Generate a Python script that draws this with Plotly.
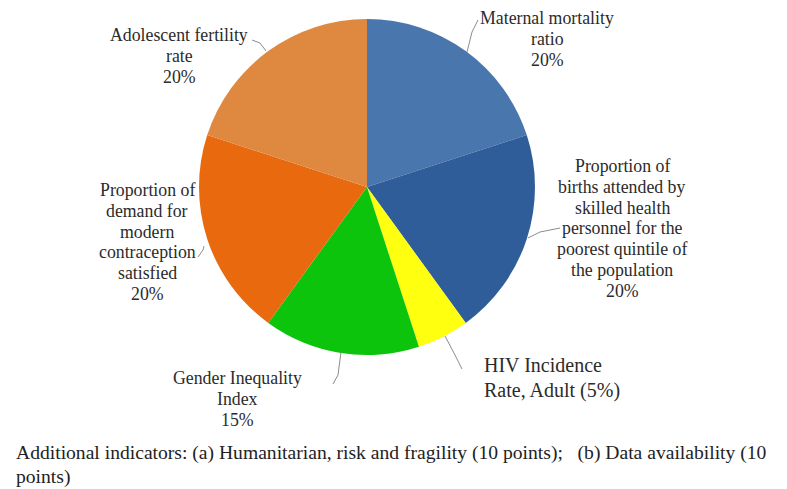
import plotly.graph_objects as go

W, H = 787, 489
OFF = 8  # page body margin of the viewer

labels = [
    "Maternal mortality ratio",
    "Proportion of births attended by skilled health personnel for the poorest quintile of the population",
    "HIV Incidence Rate, Adult",
    "Gender Inequality Index",
    "Proportion of demand for modern contraception satisfied",
    "Adolescent fertility rate",
]
values = [20, 20, 5, 15, 20, 20]
colors = ["#4a76ae", "#2f5d99", "#ffff10", "#0cc40c", "#e8690e", "#de8840"]

label_lines = [
    ["Maternal mortality", "ratio", "20%"],
    ["Proportion of", "births attended by", "skilled health", "personnel for the",
     "poorest quintile of", "the population", "20%"],
    ["HIV Incidence", "Rate, Adult (5%)"],
    ["Gender Inequality", "Index", "15%"],
    ["Proportion of", "demand for", "modern", "contraception", "satisfied", "20%"],
    ["Adolescent fertility", "rate", "20%"],
]
caption_lines = [
    "Additional indicators: (a) Humanitarian, risk and fragility (10 points);   (b) Data availability (10",
    "points)",
]

# layout: (x, first-line y, align, font size, line spacing) in screen pixels
label_pos = [(547, 18, "center", 17.8, 21), (622, 166, "center", 17.8, 20.8),
             (482, 365, "left", 20, 25), (237, 378, "center", 17.8, 21),
             (147, 190, "center", 17.8, 20.8), (179, 35, "center", 17.8, 21)]
leaders = [[(478, 20), (472, 32), (467, 52)],
           [(560, 228), (540, 232), (528, 238)],
           [(462, 369), (455, 355), (445, 336)],
           [(333, 384), (338, 375), (341, 352)],
           [(198, 257), (203, 250), (204, 246)],
           [(252, 40), (260, 43), (266, 51)]]
caption_y = [453, 477]

cx, cy, r = 367, 187, 168


def px(x):
    return (x - OFF) / W


def py(y):
    return 1 - (y - OFF) / H


fig = go.Figure(go.Pie(
    labels=labels, values=values, sort=False, direction="clockwise", rotation=0,
    marker=dict(colors=colors, line=dict(width=0)),
    textinfo="none", hoverinfo="label+percent", showlegend=False,
    domain=dict(x=[px(cx - r), px(cx + r)], y=[py(cy + r), py(cy - r)]),
))

font_family = "Liberation Serif, Times New Roman, serif"
for lines, (x, y0, al, fs, sp) in zip(label_lines, label_pos):
    for i, t in enumerate(lines):
        fig.add_annotation(x=px(x), y=py(y0 + sp * i), xref="paper", yref="paper", text=t,
                           showarrow=False, xanchor=al, yanchor="middle", align=al,
                           font=dict(family=font_family, size=fs, color="#2b2b2b"))

for pts in leaders:
    path = "M " + " L ".join(f"{px(x)},{py(y)}" for x, y in pts)
    fig.add_shape(type="path", path=path, xref="paper", yref="paper",
                  line=dict(color="#8c8c8c", width=1))

for line, y in zip(caption_lines, caption_y):
    fig.add_annotation(x=px(14), y=py(y), xref="paper", yref="paper", text=line,
                       showarrow=False, xanchor="left", yanchor="middle", align="left",
                       font=dict(family=font_family, size=19.6, color="#222222"))

fig.update_layout(width=W, height=H, margin=dict(l=0, r=0, t=0, b=0),
                  paper_bgcolor="white", plot_bgcolor="white")
fig.write_html("out.html")
